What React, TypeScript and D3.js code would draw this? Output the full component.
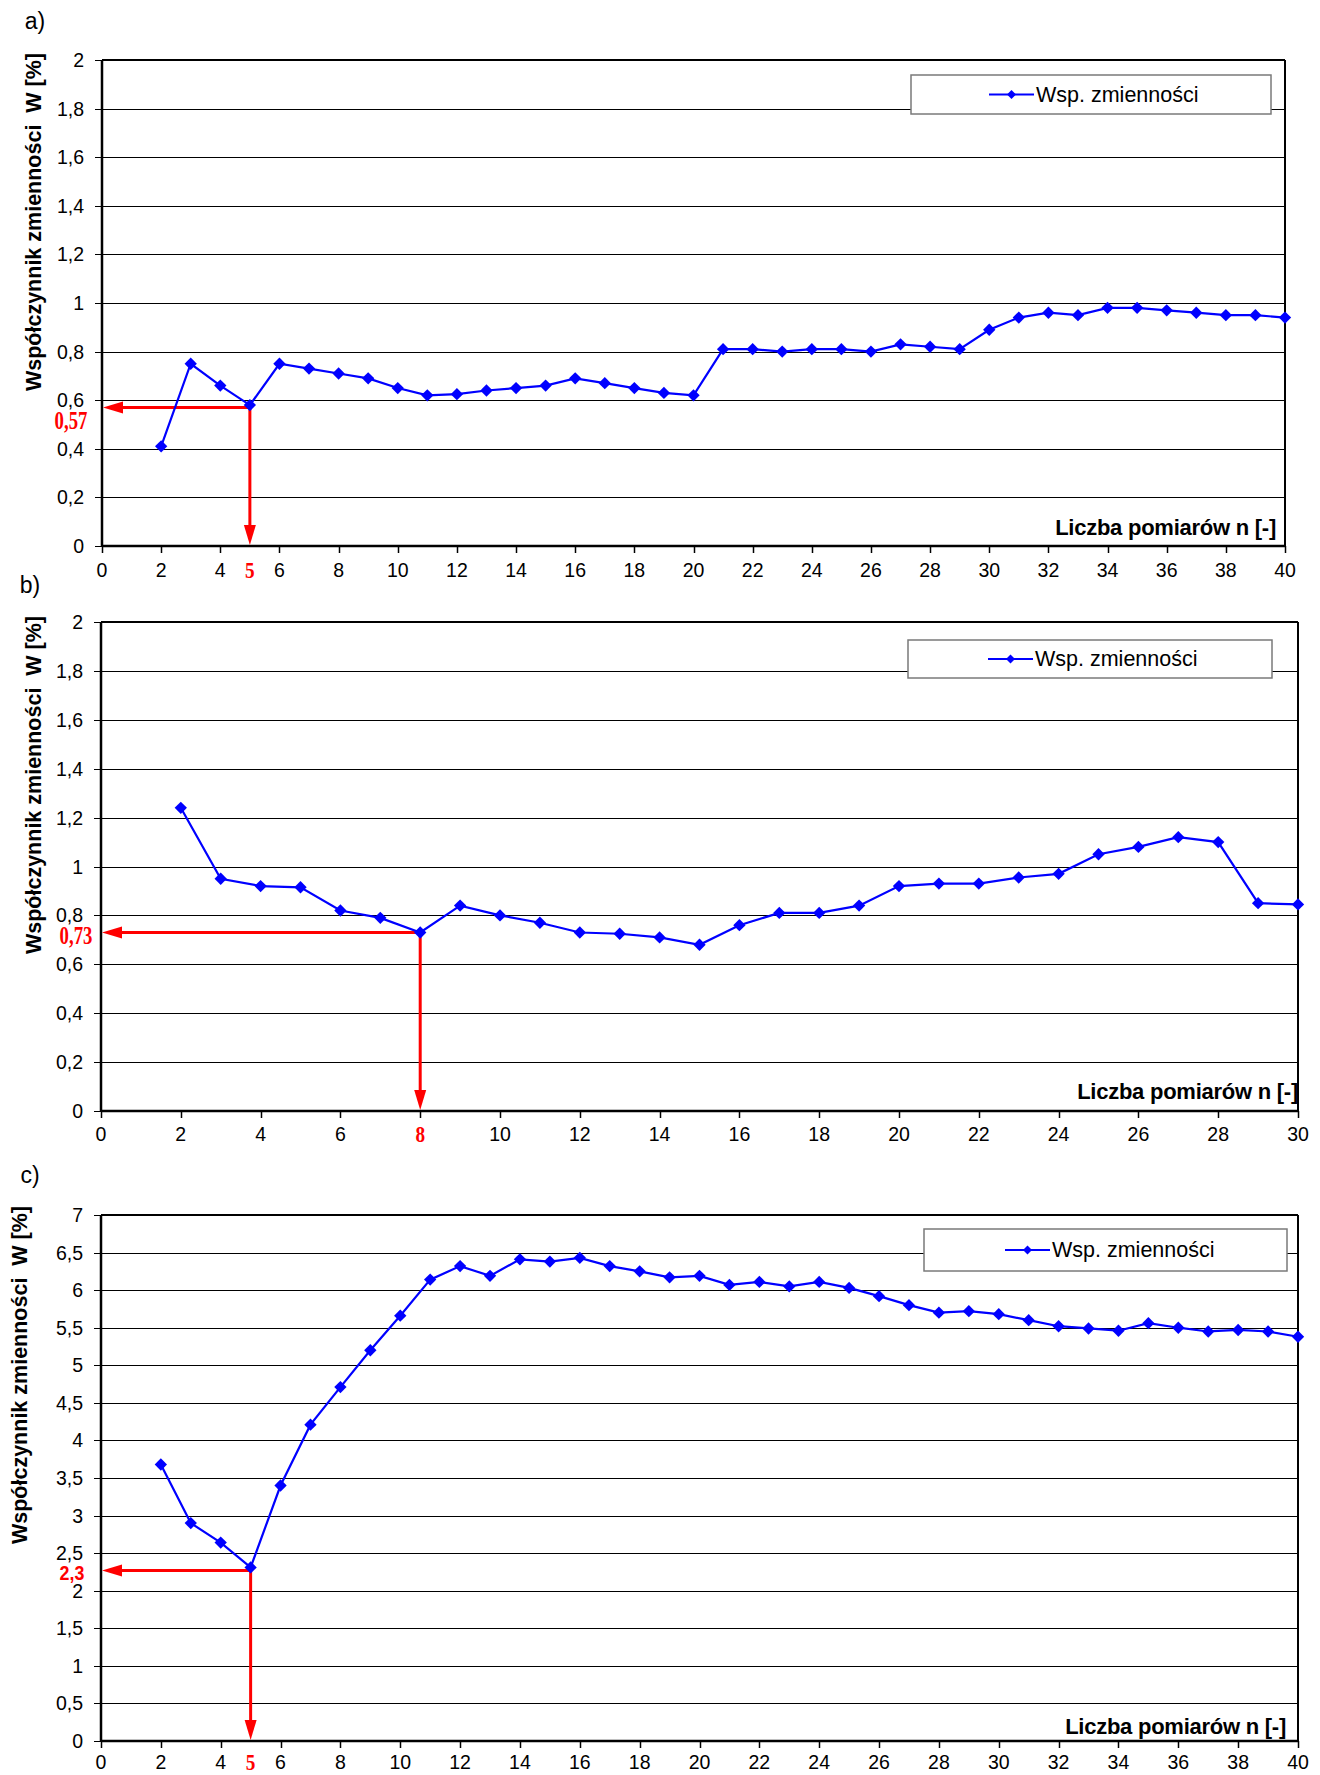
import React from "react";
import * as d3 from "d3";

// a) measurements 2..40
const nA = [2, 3, 4, 5, 6, 7, 8, 9, 10, 11, 12, 13, 14, 15, 16, 17, 18, 19, 20, 21, 22, 23, 24, 25, 26, 27, 28, 29, 30, 31, 32, 33, 34, 35, 36, 37, 38, 39, 40];
const wA = [0.41, 0.75, 0.66, 0.58, 0.75, 0.73, 0.71, 0.69, 0.65, 0.62, 0.625, 0.64, 0.65, 0.66, 0.69, 0.67, 0.65, 0.63, 0.62, 0.81, 0.81, 0.8, 0.81, 0.81, 0.8, 0.83, 0.82, 0.81, 0.89, 0.94, 0.96, 0.95, 0.98, 0.98, 0.97, 0.96, 0.95, 0.95, 0.94];

// b) measurements 2..30
const nB = [2, 3, 4, 5, 6, 7, 8, 9, 10, 11, 12, 13, 14, 15, 16, 17, 18, 19, 20, 21, 22, 23, 24, 25, 26, 27, 28, 29, 30];
const wB = [1.24, 0.95, 0.92, 0.915, 0.82, 0.79, 0.73, 0.84, 0.8, 0.77, 0.73, 0.725, 0.71, 0.68, 0.76, 0.81, 0.81, 0.84, 0.92, 0.93, 0.93, 0.955, 0.97, 1.05, 1.08, 1.12, 1.1, 0.85, 0.845];

// c) measurements 2..40
const nC = [2, 3, 4, 5, 6, 7, 8, 9, 10, 11, 12, 13, 14, 15, 16, 17, 18, 19, 20, 21, 22, 23, 24, 25, 26, 27, 28, 29, 30, 31, 32, 33, 34, 35, 36, 37, 38, 39, 40];
const wC = [3.68, 2.9, 2.64, 2.31, 3.4, 4.21, 4.71, 5.2, 5.66, 6.14, 6.32, 6.19, 6.41, 6.38, 6.43, 6.32, 6.25, 6.17, 6.19, 6.07, 6.11, 6.05, 6.11, 6.03, 5.92, 5.8, 5.7, 5.72, 5.68, 5.6, 5.52, 5.49, 5.46, 5.56, 5.5, 5.45, 5.47, 5.45, 5.38];

const yTicksAB = [0, 0.2, 0.4, 0.6, 0.8, 1, 1.2, 1.4, 1.6, 1.8, 2];
const yTicksC = [0, 0.5, 1, 1.5, 2, 2.5, 3, 3.5, 4, 4.5, 5, 5.5, 6, 6.5, 7];
const xTicks40 = [0, 2, 4, 6, 8, 10, 12, 14, 16, 18, 20, 22, 24, 26, 28, 30, 32, 34, 36, 38, 40];
const xTicks30 = [0, 2, 4, 6, 8, 10, 12, 14, 16, 18, 20, 22, 24, 26, 28, 30];

// red read-off markers
const annA = { n: 5, w: 0.57, label: "0,57" };
const annB = { n: 8, w: 0.73, label: "0,73" };
const annC = { n: 5, w: 2.27, label: "2,3" };

const seriesName = "Wsp. zmienności";
const yTitle = "Współczynnik zmienności  W [%]";
const xTitle = "Liczba pomiarów n [-]";

const SANS = "'Liberation Sans', Arial, sans-serif";
const SERIF = "'Liberation Serif', 'Times New Roman', serif";
const BLUE = "#0000ff";
const RED = "#ff0000";

const fmt = (v) => String(v).replace(".", ",");

function Panel(props) {
  const { tag, tagPos, ns, ws, xMax, yMax, xTicks, yTicks, box, labelOffset, legend, xt, yt, ann, annLabel } = props;
  const x = d3.scaleLinear().domain([0, xMax]).range([box.left, box.right]);
  const y = d3.scaleLinear().domain([0, yMax]).range([box.bottom, box.top]);
  const line = d3
    .line()
    .x((d, i) => x(ns[i]))
    .y((d) => y(d));
  const diamond = d3.symbol().type(d3.symbolSquare).size(76)();
  const legendDiamond = d3.symbol().type(d3.symbolSquare).size(40)();
  const px = (v) => Math.round(v) + 0.5;

  const ax = x(ann.n);
  const ay = y(ann.w);
  const x0 = x(0);
  const y0 = y(0);
  const labelY = box.bottom + labelOffset;

  return (
    <g>
      <text x={tagPos[0]} y={tagPos[1]} fontFamily={SANS} fontSize={23} textAnchor="middle" dominantBaseline="central">
        {tag}
      </text>

      {/* grid + y tick labels */}
      {yTicks.map((t) => (
        <g key={"g" + t}>
          <line x1={box.left - 7} x2={box.right} y1={px(y(t))} y2={px(y(t))} stroke="#000" strokeWidth={1} />
          <text x={box.left - 18} y={y(t)} fontFamily={SANS} fontSize={19.5} textAnchor="end" dominantBaseline="central">
            {fmt(t)}
          </text>
        </g>
      ))}

      {/* frame */}
      <line x1={box.left} x2={box.right} y1={box.top} y2={box.top} stroke="#000" strokeWidth={2} />
      <line x1={box.right} x2={box.right} y1={box.top} y2={box.bottom} stroke="#000" strokeWidth={2} />
      <line x1={box.left} x2={box.left} y1={box.top} y2={box.bottom} stroke="#000" strokeWidth={2.5} />
      <line x1={box.left} x2={box.right} y1={box.bottom} y2={box.bottom} stroke="#000" strokeWidth={2.5} />

      {/* x ticks */}
      {xTicks.map((t) => (
        <g key={"x" + t}>
          <line x1={px(x(t))} x2={px(x(t))} y1={box.bottom} y2={box.bottom + 7} stroke="#000" strokeWidth={1.5} />
          {t === ann.n ? null : (
            <text x={x(t)} y={labelY} fontFamily={SANS} fontSize={19.5} textAnchor="middle" dominantBaseline="central">
              {t}
            </text>
          )}
        </g>
      ))}
      <text
        transform={`translate(${x(ann.n)},${labelY}) scale(0.8,1)`}
        fontFamily={SERIF}
        fontWeight="bold"
        fontSize={24}
        fill={RED}
        textAnchor="middle"
        dominantBaseline="central"
      >
        {ann.n}
      </text>

      {/* legend */}
      <rect x={legend.x} y={legend.y} width={legend.w} height={legend.h} fill="#fff" stroke="#7a7a7a" strokeWidth={1.5} />
      <line
        x1={legend.lx}
        x2={legend.lx + 45}
        y1={legend.y + legend.h / 2}
        y2={legend.y + legend.h / 2}
        stroke={BLUE}
        strokeWidth={2.2}
      />
      <path d={legendDiamond} transform={`translate(${legend.lx + 22.5},${legend.y + legend.h / 2}) rotate(45)`} fill={BLUE} />
      <text x={legend.lx + 47} y={legend.y + legend.h / 2} fontFamily={SANS} fontSize={21.5} dominantBaseline="central">
        {seriesName}
      </text>

      {/* red read-off arrows */}
      <line x1={ax} x2={x0 + 18} y1={ay} y2={ay} stroke={RED} strokeWidth={3} />
      <polygon points={`${x0 + 1},${ay} ${x0 + 21},${ay - 6} ${x0 + 21},${ay + 6}`} fill={RED} />
      <line x1={ax} x2={ax} y1={ay} y2={y0 - 18} stroke={RED} strokeWidth={3} />
      <polygon points={`${ax},${y0 - 1} ${ax - 6},${y0 - 21} ${ax + 6},${y0 - 21}`} fill={RED} />
      <text
        transform={`translate(${annLabel.x},${annLabel.y}) scale(${annLabel.sx},1)`}
        fontFamily={annLabel.serif ? SERIF : SANS}
        fontWeight="bold"
        fontSize={annLabel.size}
        fill={RED}
        textAnchor="middle"
        dominantBaseline="central"
      >
        {ann.label}
      </text>

      {/* series */}
      <path d={line(ws)} fill="none" stroke={BLUE} strokeWidth={2.2} />
      {ws.map((w, i) => (
        <path key={i} d={diamond} transform={`translate(${x(ns[i])},${y(w)}) rotate(45)`} fill={BLUE} />
      ))}

      {/* axis titles */}
      <text
        x={xt[0]}
        y={xt[1]}
        fontFamily={SANS}
        fontWeight="bold"
        fontSize={22}
        textAnchor="end"
        dominantBaseline="central"
        letterSpacing={-0.25}
      >
        {xTitle}
      </text>
      <text
        transform={`translate(${yt[0]},${yt[1]}) rotate(-90)`}
        fontFamily={SANS}
        fontWeight="bold"
        fontSize={21.5}
        textAnchor="middle"
        dominantBaseline="central"
        style={{ whiteSpace: "pre" }}
      >
        {yTitle}
      </text>
    </g>
  );
}

export default function App() {
  return (
    <div>
      <style>{`body{margin:0;background:#fff}`}</style>
      <svg width={1320} height={1775} style={{ display: "block", background: "#fff" }}>
        <Panel
          tag="a)"
          tagPos={[35, 21]}
          ns={nA}
          ws={wA}
          xMax={40}
          yMax={2}
          xTicks={xTicks40}
          yTicks={yTicksAB}
          box={{ left: 102, right: 1285, top: 60, bottom: 546 }}
          labelOffset={24}
          legend={{ x: 911, y: 75, w: 360, h: 39, lx: 989 }}
          xt={[1276, 527]}
          yt={[34, 222]}
          ann={annA}
          annLabel={{ x: 71, y: 421, size: 25, sx: 0.75, serif: true }}
        />
        <Panel
          tag="b)"
          tagPos={[30, 585]}
          ns={nB}
          ws={wB}
          xMax={30}
          yMax={2}
          xTicks={xTicks30}
          yTicks={yTicksAB}
          box={{ left: 101, right: 1298, top: 622, bottom: 1111 }}
          labelOffset={23}
          legend={{ x: 908, y: 640, w: 364, h: 38, lx: 988 }}
          xt={[1298, 1091]}
          yt={[34, 785]}
          ann={annB}
          annLabel={{ x: 76, y: 936, size: 25, sx: 0.75, serif: true }}
        />
        <Panel
          tag="c)"
          tagPos={[30, 1175]}
          ns={nC}
          ws={wC}
          xMax={40}
          yMax={7}
          xTicks={xTicks40}
          yTicks={yTicksC}
          box={{ left: 101, right: 1298, top: 1215, bottom: 1741 }}
          labelOffset={21}
          legend={{ x: 924, y: 1229, w: 363, h: 42, lx: 1005 }}
          xt={[1286, 1726]}
          yt={[20, 1375]}
          ann={annC}
          annLabel={{ x: 72, y: 1572, size: 21, sx: 0.85, serif: false }}
        />
      </svg>
    </div>
  );
}
